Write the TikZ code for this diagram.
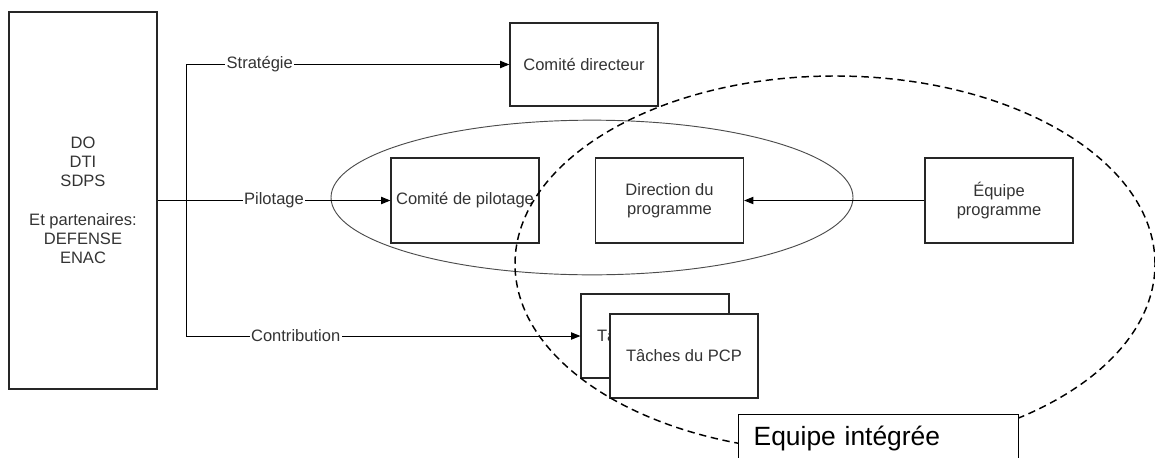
\documentclass[tikz,border=0pt]{standalone}
\usepackage{fontspec}
\setmainfont{Liberation Sans}
\usetikzlibrary{arrows.meta}
\begin{document}
\begin{tikzpicture}[x=0.75pt,y=-0.75pt,
  txt/.style={font=\fontsize{12.4}{14.4}\selectfont, text=black!80},
  box/.style={txt, draw=black!85, line width=0.9pt, minimum width=111pt, minimum height=63pt, inner sep=2pt, align=center},
  wbox/.style={box, fill=white},
  conn/.style={draw=black, line width=0.75pt},
  arr/.style={conn, -{Triangle[length=7pt,width=5.5pt]}},
  lbl/.style={txt, fill=white, inner sep=1pt},
  team/.style={draw=black!70, line width=0.7pt},
  integ/.style={draw=black, line width=1.1pt, dash pattern=on 5.5pt off 3.5pt},
]
\useasboundingbox (0,0) rectangle (1155,457);
\clip (0,0) rectangle (1155,457);

% solid ellipse (pilotage team)
\draw[team] (592,197.5) ellipse [x radius=195.75pt, y radius=58pt];

% boxes
\node[box, minimum height=282.75pt] (L) at (83,200.5)
  {DO\\DTI\\SDPS\\[14.4pt]Et partenaires:\\DEFENSE\\ENAC};
\node[box, minimum height=62.25pt] (CD) at (584,64.5) {Comité directeur};
\node[box, minimum height=63.75pt] (CP) at (465,200.5) {Comité de pilotage};
\node[box, minimum height=63.75pt] (DP) at (669.5,200.5) {Direction du\\programme};
\node[box, minimum height=63.75pt] (EP) at (999,200.5) {Équipe\\programme};
\node[wbox] (T1) at (655,336) {Tâches du PCP};
\node[wbox] (T2) at (684,356) {Tâches du PCP};

% connectors
\coordinate (J) at (186,200.5);
\draw[arr] (L.east) -- node[lbl]{Pilotage} (CP.west);
\draw[arr] (J) |- node[lbl, pos=0.614]{Stratégie} (CD.west);
\draw[arr] (J) |- node[lbl, pos=0.639]{Contribution} (T1.west);
\draw[arr] (EP.west) -- (DP.east);

% dashed ellipse (integrated team)
\draw[integ] (835,264) ellipse [x radius=240pt, y radius=141pt];

% label
\node[draw=black, line width=1pt, fill=white, anchor=north west,
      inner xsep=11.25pt, inner ysep=0pt, text width=187.5pt, align=left,
      text height=23.25pt, text depth=30pt,
      font=\fontsize{19.8}{22}\selectfont] (EI) at (738,414) {Equipe intégrée};
\end{tikzpicture}
\end{document}
